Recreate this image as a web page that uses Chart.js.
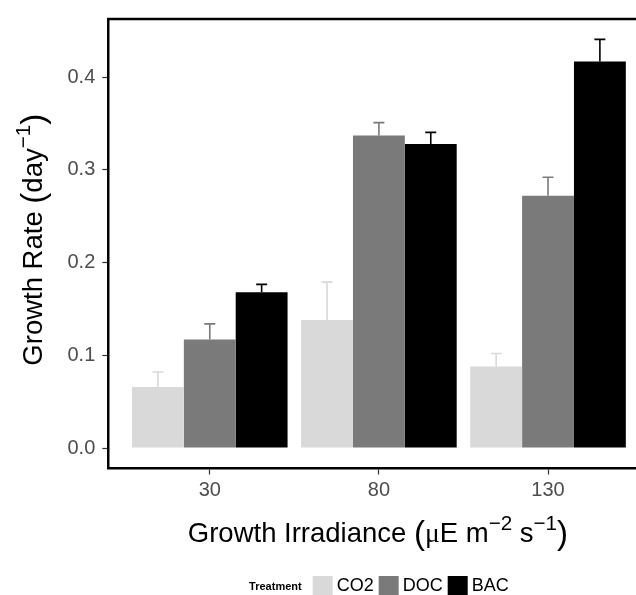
<!DOCTYPE html>
<html>
<head>
<meta charset="utf-8">
<script src="https://cdn.jsdelivr.net/npm/chart.js@4/dist/chart.umd.min.js"></script>
<style>
  html, body { margin: 0; padding: 0; overflow: hidden; background: #fff; }
  #wrap { position: absolute; left: 0; top: 0; width: 680px; height: 595px; }
</style>
</head>
<body>
<div id="wrap"><canvas id="chart" width="680" height="595"></canvas></div>
<script>
// growth irradiance groups
const categories = ["30", "80", "130"];
const treatments = ["CO2", "DOC", "BAC"];
const colors = ["#d9d9d9", "#7a7a7a", "#000000"];

// mean growth rate (day^-1) per treatment
const co2Rate = [0.066, 0.138, 0.088];
const docRate = [0.117, 0.337, 0.272];
const bacRate = [0.168, 0.328, 0.417];

// upper error (sd)
const co2Err = [0.016, 0.041, 0.014];
const docErr = [0.017, 0.014, 0.020];
const bacErr = [0.0085, 0.0125, 0.0237];

const yTicks = [0.0, 0.1, 0.2, 0.3, 0.4];

const rates = [co2Rate, docRate, bacRate];
const errs = [co2Err, docErr, bacErr];

const FONT = "'Liberation Sans', Arial, Helvetica, sans-serif";

const datasets = treatments.map((name, i) => ({
  label: name,
  data: rates[i].map((v, j) => ({ x: j + 1, y: v })),
  backgroundColor: colors[i],
  borderWidth: 0,
  categoryPercentage: 0.92,
  barPercentage: 1.0,
}));

// error bars, upper half only
const errorBars = {
  id: "errorBars",
  afterDatasetsDraw(chart) {
    const ctx = chart.ctx;
    const yScale = chart.scales.y;
    ctx.save();
    chart.data.datasets.forEach((ds, i) => {
      const meta = chart.getDatasetMeta(i);
      meta.data.forEach((bar, j) => {
        const top = yScale.getPixelForValue(ds.data[j].y + errs[i][j]);
        ctx.strokeStyle = colors[i];
        ctx.lineWidth = 1.6;
        ctx.beginPath();
        ctx.moveTo(bar.x, bar.y);
        ctx.lineTo(bar.x, top);
        ctx.moveTo(bar.x - 5.5, top);
        ctx.lineTo(bar.x + 5.5, top);
        ctx.stroke();
      });
    });
    ctx.restore();
  },
};

// draws text pieces with superscripts centred on the origin
function drawRich(ctx, parts, size) {
  const fontFor = (p) => {
    if (p.sup) return (size * 0.75) + "px " + FONT;
    if (p.paren) return (size * 1.2) + "px " + FONT;
    if (p.sym) return (size * 1.0) + "px 'Liberation Serif', 'DejaVu Serif', serif";
    return size + "px " + FONT;
  };
  let total = 0;
  parts.forEach((p) => {
    ctx.font = fontFor(p);
    p.w = ctx.measureText(p.t).width;
    total += p.w;
  });
  let x = -total / 2;
  parts.forEach((p) => {
    ctx.font = fontFor(p);
    const dy = p.sup ? -size * 0.45 : (p.paren ? size * 0.06 : 0);
    ctx.fillText(p.t, x, dy);
    x += p.w;
  });
}

const frameAndTitles = {
  id: "frameAndTitles",
  afterDraw(chart) {
    const ctx = chart.ctx;
    const a = chart.chartArea;
    ctx.save();
    // top border of the panel
    ctx.strokeStyle = "#000";
    ctx.lineWidth = 2.5;
    ctx.beginPath();
    ctx.moveTo(a.left - 1, a.top);
    ctx.lineTo(a.right, a.top);
    ctx.stroke();

    ctx.fillStyle = "#000";
    ctx.textAlign = "left";
    ctx.textBaseline = "alphabetic";

    // x title
    ctx.save();
    ctx.translate((a.left + a.right) / 2 - 1, 542);
    drawRich(ctx, [
      { t: "Growth Irradiance " },
      { t: "(", paren: true },
      { t: "\u03bc", sym: true },
      { t: "E m" },
      { t: "\u22122", sup: true },
      { t: " s" },
      { t: "\u22121", sup: true },
      { t: ")", paren: true },
    ], 27.5);
    ctx.restore();

    // y title
    ctx.save();
    ctx.translate(42, (a.top + a.bottom) / 2 - 4);
    ctx.rotate(-Math.PI / 2);
    drawRich(ctx, [
      { t: "Growth Rate " },
      { t: "(", paren: true },
      { t: "day" },
      { t: "\u22121", sup: true },
      { t: ")", paren: true },
    ], 27.5);
    ctx.restore();

    // legend
    const legY = 586;
    ctx.font = "bold 11px " + FONT;
    const titleW = ctx.measureText("Treatment").width;
    ctx.font = "18px " + FONT;
    const labW = treatments.map((t) => ctx.measureText(t).width);
    let total = titleW + 11;
    labW.forEach((w, i) => { total += 20 + 4 + w + (i < labW.length - 1 ? 5 : 0); });
    let x = (a.left + a.right) / 2 - total / 2;
    ctx.textBaseline = "middle";
    ctx.font = "bold 11px " + FONT;
    ctx.fillText("Treatment", x, legY + 1);
    x += titleW + 11;
    ctx.font = "18px " + FONT;
    treatments.forEach((t, i) => {
      ctx.fillStyle = colors[i];
      ctx.fillRect(x, 576, 20, 20);
      x += 24;
      ctx.fillStyle = "#000";
      ctx.fillText(t, x, legY);
      x += labW[i] + 5;
    });
    ctx.restore();
  },
};

new Chart(document.getElementById("chart"), {
  type: "bar",
  data: { datasets: datasets },
  options: {
    responsive: false,
    animation: false,
    devicePixelRatio: 1,
    layout: { autoPadding: false, padding: { top: 11, right: 30.5, left: 0, bottom: 0 } },
    plugins: { legend: { display: false }, tooltip: { enabled: false } },
    scales: {
      x: {
        type: "linear",
        min: 0.4,
        max: 3.6,
        offset: false,
        afterFit: (s) => { s.height = 126.5; },
        afterBuildTicks: (s) => { s.ticks = categories.map((c, i) => ({ value: i + 1 })); },
        grid: { offset: false, drawOnChartArea: false, drawTicks: true, tickLength: 6, tickColor: "#333", tickWidth: 1.2 },
        border: { display: true, color: "#000", width: 2.5 },
        ticks: {
          autoSkip: false,
          maxRotation: 0,
          padding: 4,
          color: "#4d4d4d",
          font: { family: FONT, size: 20 },
          callback: (v) => categories[v - 1],
        },
      },
      y: {
        min: -0.022,
        max: 0.4627,
        afterFit: (s) => { s.width = 108.3; },
        afterBuildTicks: (s) => { s.ticks = yTicks.map((v) => ({ value: v })); },
        grid: { drawOnChartArea: false, drawTicks: true, tickLength: 6, tickColor: "#333", tickWidth: 1.2 },
        border: { display: true, color: "#000", width: 2.5 },
        ticks: {
          padding: 7,
          color: "#4d4d4d",
          font: { family: FONT, size: 20 },
          callback: (v) => v.toFixed(1),
        },
      },
    },
  },
  plugins: [errorBars, frameAndTitles],
});
</script>
</body>
</html>
